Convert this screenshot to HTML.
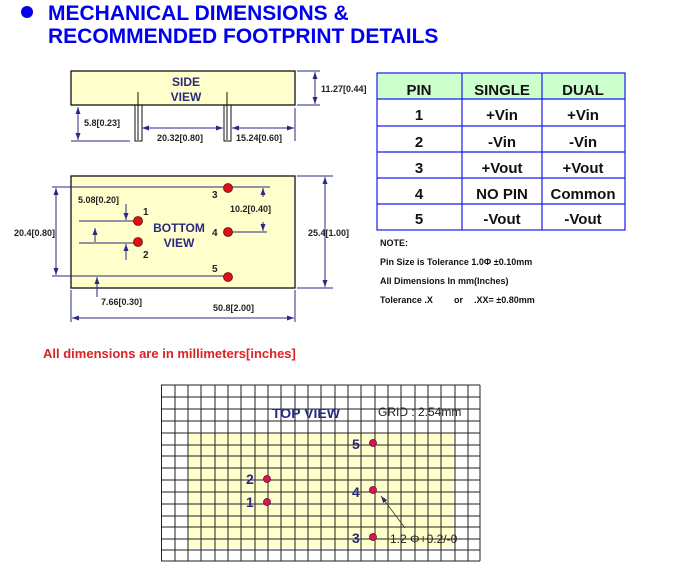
<!DOCTYPE html>
<html><head><style>
body{margin:0;background:#fff;}
svg{display:block;font-family:"Liberation Sans",Arial,sans-serif;font-weight:bold;}
</style></head><body>
<svg width="674" height="572" viewBox="0 0 674 572" xmlns="http://www.w3.org/2000/svg">
<defs>
<marker id="a" markerWidth="8" markerHeight="8" refX="7" refY="4" orient="auto-start-reverse" markerUnits="userSpaceOnUse"><path d="M0,1.5 L7,4 L0,6.5 Z" fill="#2a2a80"/></marker>
</defs>
<!-- title -->
<circle cx="27" cy="12" r="6" fill="#0000ee"/>
<text x="48" y="20" font-size="21" fill="#0000ee">MECHANICAL DIMENSIONS &amp;</text>
<text x="48" y="43" font-size="21" fill="#0000ee">RECOMMENDED FOOTPRINT DETAILS</text>

<g stroke="#2a2a80" stroke-width="1" fill="none">
<!-- side view -->
<rect x="71" y="71" width="224" height="34" fill="#ffffcc" stroke="#111" stroke-width="1.3"/>
<rect x="135" y="105" width="7" height="36" stroke="#111"/>
<rect x="224" y="105" width="7" height="36" stroke="#111"/>
<line x1="138" y1="92" x2="138" y2="140" stroke="#111"/>
<line x1="227" y1="92" x2="227" y2="140" stroke="#111"/>
<line x1="297" y1="71" x2="320" y2="71"/><line x1="297" y1="105" x2="320" y2="105"/>
<line x1="315" y1="72" x2="315" y2="104" marker-start="url(#a)" marker-end="url(#a)"/>
<line x1="71" y1="141" x2="130" y2="141"/>
<line x1="78" y1="107" x2="78" y2="140" marker-start="url(#a)" marker-end="url(#a)"/>
<line x1="295" y1="108" x2="295" y2="141"/>
<line x1="142" y1="128" x2="223" y2="128" marker-start="url(#a)" marker-end="url(#a)"/>
<line x1="232" y1="128" x2="294" y2="128" marker-start="url(#a)" marker-end="url(#a)"/>
<!-- bottom view -->
<rect x="71" y="176" width="224" height="112" fill="#ffffcc" stroke="#111" stroke-width="1.3"/>
<line x1="52" y1="187" x2="270" y2="187"/>
<line x1="52" y1="276" x2="228" y2="276"/>
<line x1="56" y1="188" x2="56" y2="275" marker-start="url(#a)" marker-end="url(#a)"/>
<line x1="297" y1="176" x2="333" y2="176"/><line x1="297" y1="288" x2="333" y2="288"/>
<line x1="325" y1="177" x2="325" y2="287" marker-start="url(#a)" marker-end="url(#a)"/>
<line x1="79" y1="221" x2="138" y2="221"/>
<line x1="79" y1="243" x2="138" y2="243"/>
<line x1="126" y1="204" x2="126" y2="220" marker-end="url(#a)"/>
<line x1="126" y1="260" x2="126" y2="244" marker-end="url(#a)"/>
<line x1="95" y1="228" x2="95" y2="242" marker-start="url(#a)"/>
<line x1="228" y1="232" x2="267" y2="232"/>
<line x1="263" y1="197" x2="263" y2="188" marker-end="url(#a)"/>
<line x1="263" y1="222" x2="263" y2="231" marker-end="url(#a)"/>
<line x1="97" y1="297" x2="97" y2="277" marker-end="url(#a)"/>
<line x1="71" y1="290" x2="71" y2="322"/><line x1="295" y1="290" x2="295" y2="322"/>
<line x1="72" y1="318" x2="294" y2="318" marker-start="url(#a)" marker-end="url(#a)"/>
</g>
<g fill="#dd1111" stroke="#661111" stroke-width="0.8">
<circle cx="138" cy="221" r="4.5"/><circle cx="138" cy="242" r="4.5"/>
<circle cx="228" cy="188" r="4.5"/><circle cx="228" cy="232" r="4.5"/><circle cx="228" cy="277" r="4.5"/>
</g>
<g fill="#2a2a80" font-size="12" text-anchor="middle">
<text x="186" y="86">SIDE</text><text x="186" y="101">VIEW</text>
<text x="179" y="232">BOTTOM</text><text x="179" y="247">VIEW</text>
</g>
<g fill="#222" font-size="9">
<text x="321" y="92">11.27[0.44]</text>
<text x="84" y="126">5.8[0.23]</text>
<text x="157" y="141">20.32[0.80]</text>
<text x="236" y="141">15.24[0.60]</text>
<text x="78" y="203">5.08[0.20]</text>
<text x="14" y="236">20.4[0.80]</text>
<text x="230" y="212">10.2[0.40]</text>
<text x="308" y="236">25.4[1.00]</text>
<text x="101" y="305">7.66[0.30]</text>
<text x="213" y="311">50.8[2.00]</text>
<text x="143" y="215" font-size="10">1</text>
<text x="143" y="258" font-size="10">2</text>
<text x="212" y="198" font-size="10">3</text>
<text x="212" y="236" font-size="10">4</text>
<text x="212" y="272" font-size="10">5</text>
</g>
<!-- table -->
<rect x="377" y="73" width="248" height="26" fill="#ccffcc"/>
<g stroke="#1a1aee" stroke-width="1.2" fill="none">
<rect x="377" y="73" width="248" height="157"/>
<line x1="462" y1="73" x2="462" y2="230"/><line x1="542" y1="73" x2="542" y2="230"/>
<line x1="377" y1="99" x2="625" y2="99"/><line x1="377" y1="126" x2="625" y2="126"/>
<line x1="377" y1="152" x2="625" y2="152"/><line x1="377" y1="178" x2="625" y2="178"/>
<line x1="377" y1="204" x2="625" y2="204"/>
</g>
<g fill="#111" font-size="15" text-anchor="middle">
<text x="419" y="95">PIN</text><text x="502" y="95">SINGLE</text><text x="583" y="95">DUAL</text>
<text x="419" y="120">1</text><text x="502" y="120">+Vin</text><text x="583" y="120">+Vin</text>
<text x="419" y="147">2</text><text x="502" y="147">-Vin</text><text x="583" y="147">-Vin</text>
<text x="419" y="173">3</text><text x="502" y="173">+Vout</text><text x="583" y="173">+Vout</text>
<text x="419" y="199">4</text><text x="502" y="199">NO PIN</text><text x="583" y="199">Common</text>
<text x="419" y="224">5</text><text x="502" y="224">-Vout</text><text x="583" y="224">-Vout</text>
</g>
<g fill="#111" font-size="9">
<text x="380" y="246">NOTE:</text>
<text x="380" y="265">Pin Size is Tolerance 1.0Φ ±0.10mm</text>
<text x="380" y="284">All Dimensions In mm(Inches)</text>
<text x="380" y="303">Tolerance .X</text><text x="454" y="303">or</text><text x="474" y="303">.XX= ±0.80mm</text>
</g>
<text x="43" y="358" font-size="13" fill="#dd2222">All dimensions are in millimeters[inches]</text>
<!-- grid -->
<rect x="188" y="433" width="265" height="115" fill="#ffffcc"/>
<g stroke="#222" stroke-width="1">
<line x1="161.5" y1="385" x2="161.5" y2="561"/><line x1="175" y1="385" x2="175" y2="561"/><line x1="188" y1="385" x2="188" y2="561"/><line x1="201" y1="385" x2="201" y2="561"/><line x1="215" y1="385" x2="215" y2="561"/><line x1="228" y1="385" x2="228" y2="561"/><line x1="241" y1="385" x2="241" y2="561"/><line x1="255" y1="385" x2="255" y2="561"/><line x1="268" y1="385" x2="268" y2="561"/><line x1="281" y1="385" x2="281" y2="561"/><line x1="295" y1="385" x2="295" y2="561"/><line x1="308" y1="385" x2="308" y2="561"/><line x1="321" y1="385" x2="321" y2="561"/><line x1="335" y1="385" x2="335" y2="561"/><line x1="348" y1="385" x2="348" y2="561"/><line x1="361" y1="385" x2="361" y2="561"/><line x1="375" y1="385" x2="375" y2="561"/><line x1="388" y1="385" x2="388" y2="561"/><line x1="401" y1="385" x2="401" y2="561"/><line x1="415" y1="385" x2="415" y2="561"/><line x1="428" y1="385" x2="428" y2="561"/><line x1="441" y1="385" x2="441" y2="561"/><line x1="455" y1="385" x2="455" y2="561"/><line x1="468" y1="385" x2="468" y2="561"/><line x1="480" y1="385" x2="480" y2="561"/>
<line x1="161" y1="385" x2="480" y2="385"/><line x1="161" y1="397" x2="480" y2="397"/><line x1="161" y1="409" x2="480" y2="409"/><line x1="161" y1="421" x2="480" y2="421"/><line x1="161" y1="433" x2="480" y2="433"/><line x1="161" y1="445" x2="480" y2="445"/><line x1="161" y1="456" x2="480" y2="456"/><line x1="161" y1="468" x2="480" y2="468"/><line x1="161" y1="480" x2="480" y2="480"/><line x1="161" y1="492" x2="480" y2="492"/><line x1="161" y1="504" x2="480" y2="504"/><line x1="161" y1="516" x2="480" y2="516"/><line x1="161" y1="527" x2="480" y2="527"/><line x1="161" y1="539" x2="480" y2="539"/><line x1="161" y1="550" x2="480" y2="550"/><line x1="161" y1="561" x2="480" y2="561"/>
</g>
<text x="272" y="418" font-size="14" fill="#2a2a80">TOP VIEW</text>
<text x="378" y="416" font-size="12" fill="#222" font-weight="normal">GRID : 2.54mm</text>
<g fill="#dd1155" stroke="#551122" stroke-width="0.8">
<circle cx="267" cy="479" r="3.5"/><circle cx="267" cy="502" r="3.5"/>
<circle cx="373" cy="443" r="3.5"/><circle cx="373" cy="490" r="3.5"/><circle cx="373" cy="537" r="3.5"/>
</g>
<g fill="#2a2a80" font-size="14">
<text x="246" y="484">2</text><text x="246" y="507">1</text>
<text x="352" y="449">5</text><text x="352" y="497">4</text><text x="352" y="543">3</text>
</g>
<line x1="405" y1="528" x2="381" y2="496" stroke="#333" stroke-width="0.8" marker-end="url(#a)"/>
<text x="390" y="543" font-size="12" fill="#222" font-weight="normal">1.2 Φ+0.2/-0</text>
</svg>
</body></html>
